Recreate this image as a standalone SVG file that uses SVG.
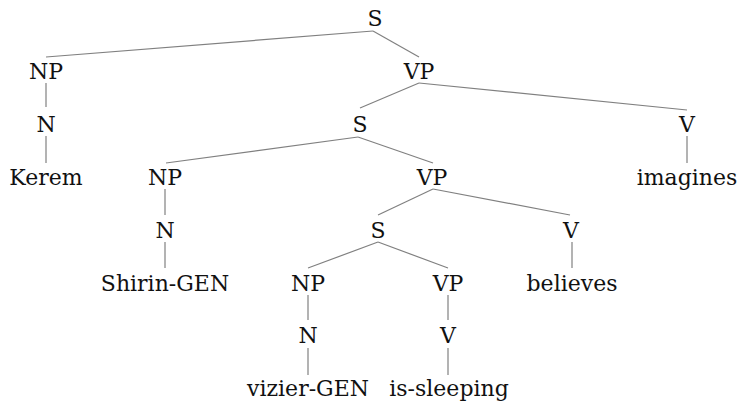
<svg xmlns="http://www.w3.org/2000/svg" width="739" height="404" viewBox="0 0 739 404">
<style>
text{font-family:"DejaVu Serif","Liberation Serif",serif;font-size:22px;fill:#111;text-anchor:middle}
line{stroke:#808080;stroke-width:1.2}
</style>
<rect width="739" height="404" fill="#fff"/>
<g id="connectors">
<line x1="373" y1="31" x2="46" y2="57"/>
<line x1="373" y1="31" x2="419" y2="57"/>
<line x1="46" y1="83" x2="46" y2="107"/>
<line x1="419" y1="83" x2="360" y2="108"/>
<line x1="419" y1="83" x2="687" y2="110"/>
<line x1="46" y1="136" x2="46" y2="163"/>
<line x1="358" y1="137" x2="166" y2="163"/>
<line x1="358" y1="137" x2="433" y2="163"/>
<line x1="687" y1="136" x2="687" y2="163"/>
<line x1="165" y1="189" x2="165" y2="215"/>
<line x1="433" y1="189" x2="378" y2="215"/>
<line x1="433" y1="189" x2="570" y2="215"/>
<line x1="165" y1="242" x2="165" y2="268"/>
<line x1="378" y1="242" x2="308" y2="268"/>
<line x1="378" y1="242" x2="448" y2="268"/>
<line x1="572" y1="242" x2="572" y2="268"/>
<line x1="308" y1="295" x2="308" y2="320"/>
<line x1="448" y1="295" x2="448" y2="320"/>
<line x1="308" y1="348" x2="308" y2="375"/>
<line x1="448" y1="348" x2="448" y2="375"/>
</g>
<g id="n_S0"><text x="375" y="26">S</text></g>
<g id="n_NP1"><text x="46" y="79">NP</text></g>
<g id="n_VP1"><text x="419" y="79">VP</text></g>
<g id="n_N2"><text x="46" y="132">N</text></g>
<g id="n_S2"><text x="360" y="132">S</text></g>
<g id="n_V2"><text x="687" y="132">V</text></g>
<g id="n_Kerem"><text x="46" y="185">Kerem</text></g>
<g id="n_NP3"><text x="165" y="185">NP</text></g>
<g id="n_VP3"><text x="432" y="185">VP</text></g>
<g id="n_imagines"><text x="687" y="185">imagines</text></g>
<g id="n_N4"><text x="165" y="238">N</text></g>
<g id="n_S4"><text x="378" y="238">S</text></g>
<g id="n_V4"><text x="571" y="238">V</text></g>
<g id="n_Shirin"><text x="165" y="291">Shirin-GEN</text></g>
<g id="n_NP5"><text x="308" y="291">NP</text></g>
<g id="n_VP5"><text x="448" y="291">VP</text></g>
<g id="n_believes"><text x="572" y="291">believes</text></g>
<g id="n_N6"><text x="308" y="343">N</text></g>
<g id="n_V6"><text x="448" y="343">V</text></g>
<g id="n_vizier"><text x="308" y="396">vizier-GEN</text></g>
<g id="n_issleeping"><text x="449" y="396">is-sleeping</text></g>
</svg>
